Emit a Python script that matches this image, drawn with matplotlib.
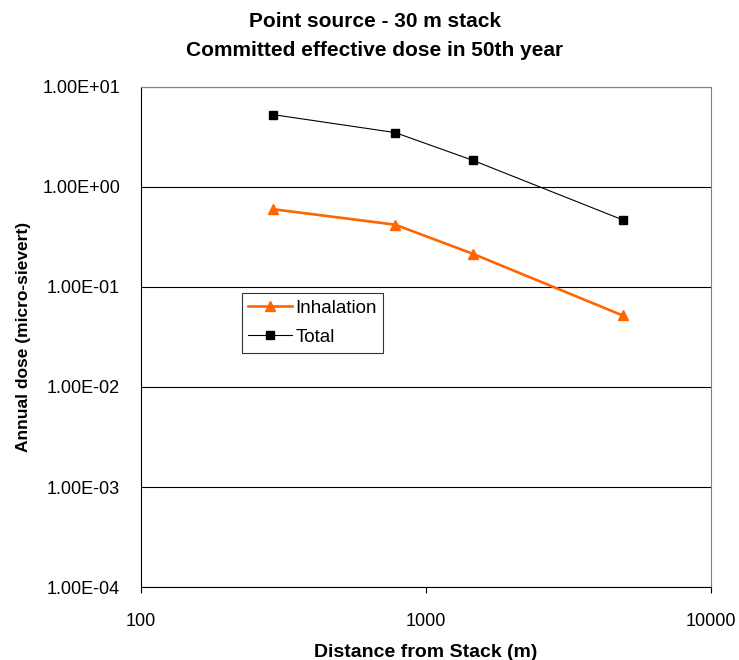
import numpy as np
import matplotlib
matplotlib.use('Agg')
import matplotlib.pyplot as plt
from matplotlib.ticker import FixedLocator, NullLocator

plt.rcParams['font.family'] = ['Liberation Sans', 'DejaVu Sans']

# distances from stack (m)
distance = [290, 780, 1460, 4900]
# annual dose (micro-sievert)
inhalation = [0.60, 0.42, 0.215, 0.052]
total = [5.3, 3.5, 1.85, 0.47]

y_ticks = [1e-4, 1e-3, 1e-2, 1e-1, 1e0, 1e1]
y_labels = ['1.00E-04', '1.00E-03', '1.00E-02', '1.00E-01', '1.00E+00', '1.00E+01']
x_ticks = [100, 1000, 10000]
x_labels = ['100', '1000', '10000']

fig = plt.figure(figsize=(7.39, 6.60), dpi=100)
ax = fig.add_axes([0.1908, 0.1106, 0.771, 0.7576])

ax.plot(distance, inhalation, color='#ff6600', lw=1.9, marker='^', ms=7.5,
        mec='#ff6600', mfc='#ff6600', label='Inhalation')
ax.plot(distance, total, color='black', lw=0.8, marker='s', ms=5.5,
        mfc='black', label='Total')

ax.set_xscale('log')
ax.set_yscale('log')
ax.set_xlim(100, 10000)
ax.set_ylim(1e-4, 1e1)

ax.yaxis.set_major_locator(FixedLocator(y_ticks))
ax.yaxis.set_minor_locator(NullLocator())
ax.set_yticklabels(y_labels, fontsize=13)
ax.xaxis.set_major_locator(FixedLocator(x_ticks))
ax.xaxis.set_minor_locator(NullLocator())
ax.set_xticklabels(x_labels, fontsize=13)
ax.tick_params(axis='x', direction='out', length=4, pad=15)
ax.tick_params(axis='y', direction='out', length=0, pad=15)

ax.grid(axis='y', color='black', lw=0.8)
for s in ax.spines.values():
    s.set_linewidth(0.8)
    s.set_color('black')
ax.spines['top'].set_color('#808080')
ax.spines['right'].set_color('#808080')

ax.set_xlabel('Distance from Stack (m)', fontsize=14, fontweight='bold', labelpad=10)
ax.set_ylabel('Annual dose (micro-sievert)', fontsize=12.5, fontweight='bold', labelpad=8)
fig.text(0.507, 0.982, 'Point source - 30 m stack\nCommitted effective dose in 50th year',
         fontsize=15, fontweight='bold', ha='center', va='top', linespacing=1.7)

leg = ax.legend(loc='upper left', bbox_to_anchor=(0.177, 0.588), borderaxespad=0,
                fontsize=13.5, frameon=True, fancybox=False, edgecolor='black',
                borderpad=0.35, handlelength=2.3, handletextpad=0.2, labelspacing=0.65)
leg.get_frame().set_linewidth(0.8)

fig.savefig('out.png', dpi=100)
